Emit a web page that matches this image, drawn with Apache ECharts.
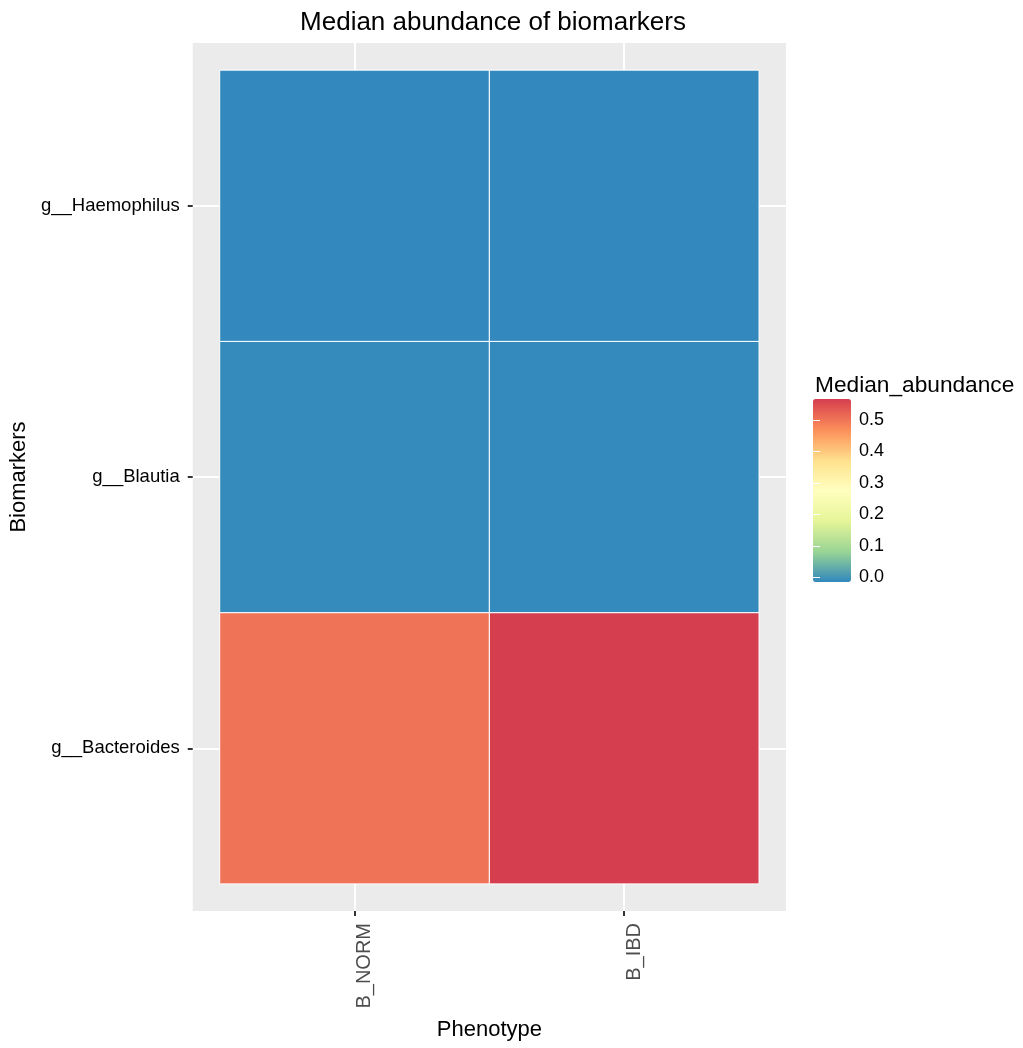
<!DOCTYPE html>
<html>
<head>
<meta charset="utf-8">
<title>Median abundance of biomarkers</title>
<script src="https://cdn.jsdelivr.net/npm/echarts@6/dist/echarts.min.js"></script>
<style>
  html, body { margin: 0; padding: 0; background: #ffffff; }
  #chart { width: 1023px; height: 1048px; }
</style>
</head>
<body>
<div id="chart"></div>
<script>
// Categories (x: phenotype, y: genus, bottom to top)
const phenotypes = ['B_NORM', 'B_IBD'];
const biomarkers = ['g__Bacteroides', 'g__Blautia', 'g__Haemophilus'];

// Median abundance per genus, one array per phenotype (same order as biomarkers)
const medianNorm = [0.49, 0.003, 0.001];
const medianIbd = [0.552, 0.002, 0.001];

// Colour bar range and tick labels
const scaleMin = 0;
const scaleMax = 0.552;
const legendTicks = [0.0, 0.1, 0.2, 0.3, 0.4, 0.5];

// Reversed Spectral ramp
const rampColors = ['#3288BD', '#99D594', '#E6F598', '#FFFFBF', '#FEE08B', '#FC8D59', '#D53E4F'];

const FONT = 'Liberation Sans, Arial, Helvetica, sans-serif';

// Colour bar drawn with half a bin of padding at each end of the range
const barPad = (scaleMax - scaleMin) / 38;

// Tiles: [phenotype position, genus position, value]
const columns = [medianNorm, medianIbd];
const tiles = [];
columns.forEach((col, xi) => {
  col.forEach((v, yi) => tiles.push([xi + 1, yi + 1, v]));
});

const chart = echarts.init(document.getElementById('chart'), null, { renderer: 'canvas' });

const option = {
  backgroundColor: '#ffffff',
  animation: false,
  textStyle: { fontFamily: FONT },
  title: [
    {
      text: 'Median abundance of biomarkers',
      left: 488, top: 5, textAlign: 'center',
      textStyle: { fontFamily: FONT, fontSize: 26, fontWeight: 'normal', color: '#000000' }
    },
    {
      text: 'Median_abundance',
      left: 810, top: 369,
      textStyle: { fontFamily: FONT, fontSize: 22.7, fontWeight: 'normal', color: '#000000' }
    }
  ],
  grid: [
    { left: 190, top: 43, width: 596, height: 868, show: true, backgroundColor: '#EBEBEB', borderWidth: 0 },
    { left: 813, top: 399, width: 38, height: 183, show: false }
  ],
  xAxis: [
    {
      type: 'value', gridIndex: 0, min: 0.4, max: 2.6,
      name: 'Phenotype', nameLocation: 'middle', nameGap: 108,
      nameTextStyle: { fontFamily: FONT, fontSize: 22, color: '#000000' },
      axisLine: { show: false },
      axisTick: { show: true, customValues: [1, 2], length: 5, lineStyle: { color: '#333333', width: 2 } },
      axisLabel: {
        customValues: [1, 2], rotate: 90, margin: 12,
        fontFamily: FONT, fontSize: 20, color: '#4D4D4D',
        verticalAlign: 'top',
        formatter: v => phenotypes[Math.round(v) - 1] || ''
      },
      splitLine: { show: true, lineStyle: { color: '#ffffff', width: 2 } }
    },
    {
      type: 'value', gridIndex: 1, min: 0, max: 1, show: false
    }
  ],
  yAxis: [
    {
      type: 'value', gridIndex: 0, min: 0.4, max: 3.6,
      name: 'Biomarkers', nameLocation: 'middle', nameGap: 148, nameRotate: 90,
      nameTextStyle: { fontFamily: FONT, fontSize: 22, color: '#000000' },
      axisLine: { show: false },
      axisTick: { show: true, customValues: [1, 2, 3], length: 5, lineStyle: { color: '#333333', width: 2 } },
      axisLabel: {
        customValues: [1, 2, 3], margin: 13,
        fontFamily: FONT, fontSize: 18.5, color: '#000000',
        formatter: v => biomarkers[Math.round(v) - 1] || ''
      },
      splitLine: { show: true, lineStyle: { color: '#ffffff', width: 2 } }
    },
    {
      // colour bar scale, right side: labels and inward ticks
      type: 'value', gridIndex: 1, position: 'right',
      min: scaleMin - barPad, max: scaleMax + barPad, z: 10,
      axisLine: { show: false },
      axisTick: { show: true, inside: true, length: 7, customValues: legendTicks, lineStyle: { color: '#ffffff', width: 1 } },
      axisLabel: {
        customValues: legendTicks, margin: 8,
        fontFamily: FONT, fontSize: 18, color: '#000000',
        formatter: v => v.toFixed(1)
      },
      splitLine: { show: false }
    },
    {
      // colour bar scale, left side: inward ticks only
      type: 'value', gridIndex: 1, position: 'left',
      min: scaleMin - barPad, max: scaleMax + barPad, z: 10,
      axisLine: { show: false },
      axisTick: { show: true, inside: true, length: 7, customValues: legendTicks, lineStyle: { color: '#ffffff', width: 1 } },
      axisLabel: { show: false },
      splitLine: { show: false }
    }
  ],
  visualMap: {
    type: 'continuous',
    seriesIndex: 0,
    dimension: 2,
    min: scaleMin,
    max: scaleMax,
    calculable: false,
    hoverLink: false,
    orient: 'vertical',
    left: 813,
    top: 399,
    padding: 0,
    itemWidth: 38,
    itemHeight: 183,
    text: null,
    showLabel: false,
    inRange: { color: rampColors }
  },
  series: [
    {
      type: 'custom',
      xAxisIndex: 0,
      yAxisIndex: 0,
      data: tiles,
      encode: { x: 0, y: 1 },
      renderItem: function (params, api) {
        const x = api.value(0);
        const y = api.value(1);
        const p0 = api.coord([x - 0.5, y + 0.5]);
        const p1 = api.coord([x + 0.5, y - 0.5]);
        return {
          type: 'rect',
          shape: { x: p0[0], y: p0[1], width: p1[0] - p0[0], height: p1[1] - p0[1] },
          style: { fill: api.visual('color'), stroke: '#ffffff', lineWidth: 1 }
        };
      }
    }
  ]
};

chart.setOption(option);
</script>
</body>
</html>
